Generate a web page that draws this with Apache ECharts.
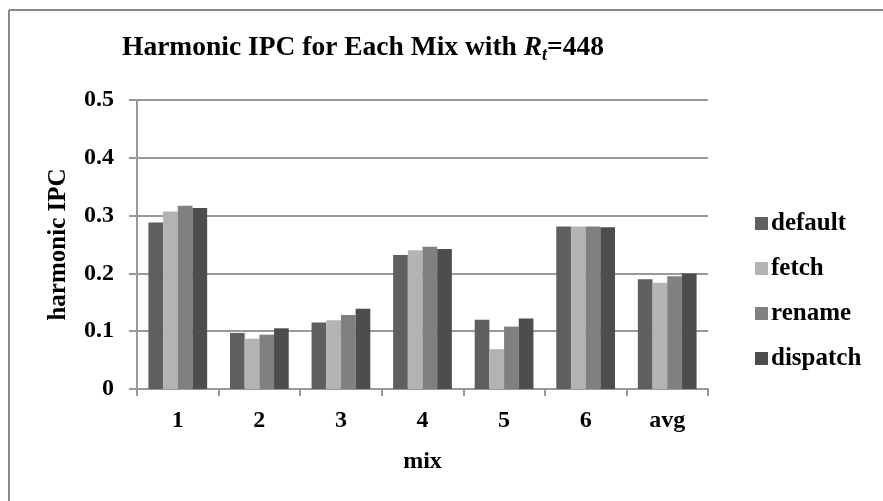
<!DOCTYPE html>
<html>
<head>
<meta charset="utf-8">
<script src="https://cdn.jsdelivr.net/npm/echarts@6/dist/echarts.min.js"></script>
<style>
html,body{margin:0;padding:0;background:#fff;}
#chart{width:883px;height:501px;}
</style>
</head>
<body>
<div id="chart"></div>
<script>
var categories = ['1', '2', '3', '4', '5', '6', 'avg'];
var seriesNames = ['default', 'fetch', 'rename', 'dispatch'];
var defaultVals  = [0.288, 0.097, 0.115, 0.232, 0.120, 0.281, 0.190];
var fetchVals    = [0.307, 0.087, 0.119, 0.240, 0.069, 0.281, 0.184];
var renameVals   = [0.317, 0.094, 0.128, 0.246, 0.108, 0.281, 0.195];
var dispatchVals = [0.313, 0.105, 0.139, 0.242, 0.122, 0.280, 0.200];
var yTicks = [0, 0.1, 0.2, 0.3, 0.4, 0.5];
var colors = ['#5f5f5f', '#b3b3b3', '#808080', '#4d4d4d'];

var FONT = '"Liberation Serif", "Times New Roman", serif';
var chart = echarts.init(document.getElementById('chart'), null, {renderer: 'canvas'});
var allVals = [defaultVals, fetchVals, renameVals, dispatchVals];
var series = seriesNames.map(function (n, i) {
  return {
    name: n,
    type: 'bar',
    data: allVals[i],
    barGap: '0%',
    barCategoryGap: '28%',
    itemStyle: {color: colors[i]}
  };
});

chart.setOption({
  animation: false,
  backgroundColor: '#fff',
  color: colors,
  title: {
    text: 'Harmonic IPC for Each Mix with {i|R}{s|t}{n|=448}',
    left: 117,
    top: 26,
    textStyle: {
      fontFamily: FONT, fontSize: 27.5, fontWeight: 'bold', color: '#000',
      rich: {
        i: {fontFamily: FONT, fontSize: 27.5, fontWeight: 'bold', fontStyle: 'italic', color: '#000'},
        s: {fontFamily: FONT, fontSize: 18, fontWeight: 'bold', fontStyle: 'italic', color: '#000', padding: [15, 0, 0, 0]},
        n: {fontFamily: FONT, fontSize: 27.5, fontWeight: 'bold', color: '#000'}
      }
    }
  },
  legend: {
    orient: 'vertical',
    left: 750,
    top: 206,
    itemWidth: 13,
    itemHeight: 13,
    itemGap: 20,
    icon: 'rect',
    textStyle: {fontFamily: FONT, fontSize: 25, fontWeight: 'bold', color: '#000', padding: [0, 0, 0, -2]},
    data: seriesNames
  },
  grid: {left: 137, right: 175, top: 100, bottom: 112, containLabel: false},
  xAxis: {
    type: 'category',
    data: categories,
    name: 'mix',
    nameLocation: 'middle',
    nameGap: 61,
    nameTextStyle: {fontFamily: FONT, fontSize: 24, fontWeight: 'bold', color: '#000'},
    axisLine: {lineStyle: {color: '#999', width: 2}},
    axisTick: {show: true, alignWithLabel: false, length: 7, lineStyle: {color: '#999', width: 2}},
    axisLabel: {fontFamily: FONT, fontSize: 24, fontWeight: 'bold', color: '#000', margin: 20}
  },
  yAxis: {
    type: 'value',
    min: 0,
    max: 0.5,
    interval: 0.1,
    name: 'harmonic IPC',
    nameLocation: 'middle',
    nameGap: 66,
    nameRotate: 90,
    nameTextStyle: {fontFamily: FONT, fontSize: 25, fontWeight: 'bold', color: '#000'},
    axisLine: {show: true, lineStyle: {color: '#999', width: 2}},
    axisTick: {show: true, length: 8, lineStyle: {color: '#999', width: 2}},
    splitLine: {show: true, lineStyle: {color: '#999', width: 2}},
    axisLabel: {
      fontFamily: FONT, fontSize: 24, fontWeight: 'bold', color: '#000', margin: 23,
      formatter: function (v) {
        for (var k = 0; k < yTicks.length; k++) {
          if (Math.abs(yTicks[k] - v) < 1e-9) return String(yTicks[k]);
        }
        return '';
      }
    }
  },
  graphic: [
    {type: 'line', shape: {x1: 9, y1: 10, x2: 883, y2: 10}, style: {stroke: '#888', lineWidth: 2}, silent: true},
    {type: 'line', shape: {x1: 9, y1: 10, x2: 9, y2: 501}, style: {stroke: '#888', lineWidth: 2}, silent: true}
  ],
  series: series
});
</script>
</body>
</html>
